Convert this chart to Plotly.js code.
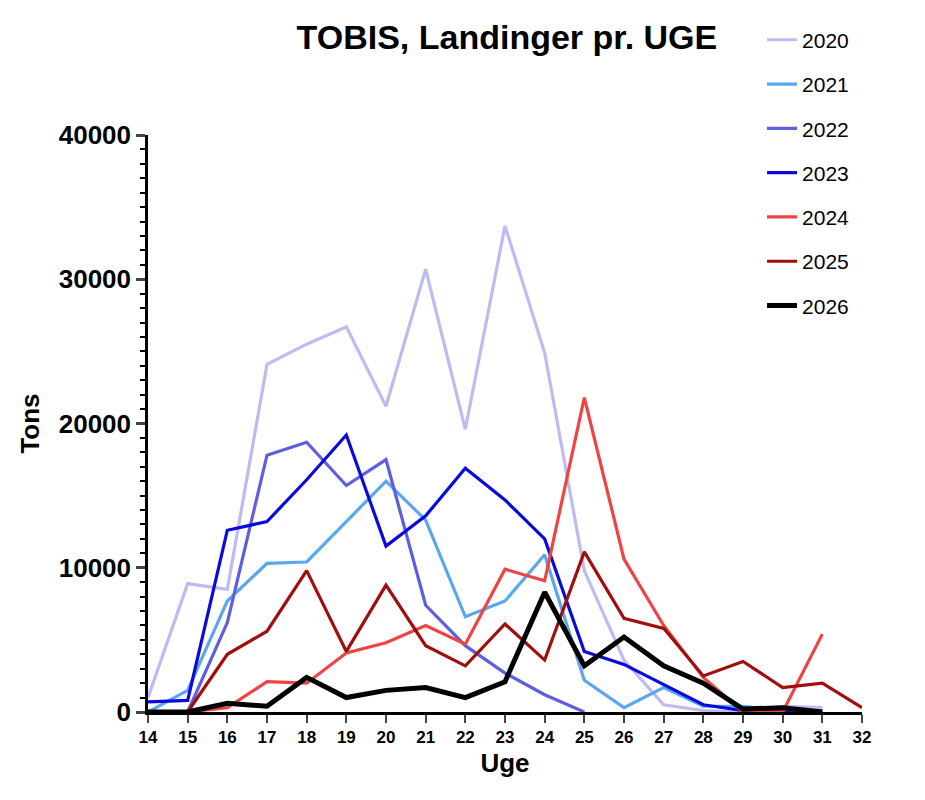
<!DOCTYPE html>
<html>
<head>
<meta charset="utf-8">
<script src="https://cdn.plot.ly/plotly-3.0.1.min.js"></script>
<style>body{margin:0;background:#fff}</style>
</head>
<body>
<div id="chart" style="width:925px;height:800px"></div>
<script>
var weeks = [14,15,16,17,18,19,20,21,22,23,24,25,26,27,28,29,30,31,32];
var y2020 = [1000,8900,8500,24100,25500,26700,21200,30700,19600,33700,24900,9800,3600,500,100,0,400,300];
var y2021 = [0,1500,7700,10300,10400,13200,16000,13300,6600,7700,10900,2200,300,1700,400,400,100,100];
var y2022 = [0,0,6200,17800,18700,15700,17500,7400,4600,2700,1200,0];
var y2023 = [700,800,12600,13200,16100,19200,11500,13600,16900,14700,12000,4200,3300,1900,500,100,0,0];
var y2024 = [0,0,300,2100,2000,4100,4800,6000,4700,9900,9100,21800,10600,6000,2400,0,0,5400];
var y2025 = [0,0,4000,5600,9800,4200,8800,4600,3200,6100,3600,11100,6500,5800,2500,3500,1700,2000,300];
var y2026 = [0,0,600,400,2400,1000,1500,1700,1000,2100,8300,3200,5200,3200,2000,200,300,0];

var series = [
  {name:'2020', y:y2020, color:'#bcbcf2', w:3.2},
  {name:'2021', y:y2021, color:'#5aa7ee', w:3.2},
  {name:'2022', y:y2022, color:'#5e5ee0', w:3.2},
  {name:'2023', y:y2023, color:'#0a0adc', w:3.2},
  {name:'2024', y:y2024, color:'#ee4444', w:3.2},
  {name:'2025', y:y2025, color:'#a00e0e', w:3.2},
  {name:'2026', y:y2026, color:'#000000', w:5}
];

var data = series.map(function(s){
  return {x: weeks.slice(0, s.y.length), y: s.y, name: s.name, legendgroup: s.name,
    type: 'scatter', mode: 'lines', line: {color: s.color, width: s.w}};
});

var layout = {
  width: 925, height: 800,
  margin: {l: 148, r: 63, t: 135, b: 88},
  font: {family: 'Liberation Sans, Arial', color: '#000'},
  title: {text: '<b>TOBIS, Landinger pr. UGE</b>', font: {size: 34}, x: 0.548, xanchor: 'center', y: 0.968},
  showlegend: true,
  legend: {x: 0.86, y: 1.2, xanchor: 'left', yanchor: 'top', font: {size: 21}, tracegroupgap: 14, bgcolor: 'rgba(0,0,0,0)'},
  xaxis: {range: [14, 32], dtick: 1, tick0: 14, showgrid: false, zeroline: false, showline: true,
    linewidth: 2.5, linecolor: '#000', ticks: 'outside', ticklen: 8, tickwidth: 2,
    tickfont: {size: 17}, tickprefix: '<b>', ticksuffix: '</b>',
    title: {text: '<b>Uge</b>', font: {size: 26}, standoff: 8}},
  yaxis: {range: [0, 40000], dtick: 10000, tickformat: 'd', showgrid: false, zeroline: false, showline: true,
    linewidth: 2.5, linecolor: '#000', ticks: 'outside', ticklen: 9, tickwidth: 2.5,
    minor: {dtick: 1000, ticks: 'outside', ticklen: 5, tickwidth: 2, tickcolor: '#000', showgrid: false},
    tickfont: {size: 26}, tickprefix: '<b>', ticksuffix: '</b>',
    title: {text: '<b>Tons</b>', font: {size: 26}, standoff: 12}},
  plot_bgcolor: '#fff', paper_bgcolor: '#fff'
};

Plotly.newPlot('chart', data, layout, {displayModeBar: false});
</script>
</body>
</html>
